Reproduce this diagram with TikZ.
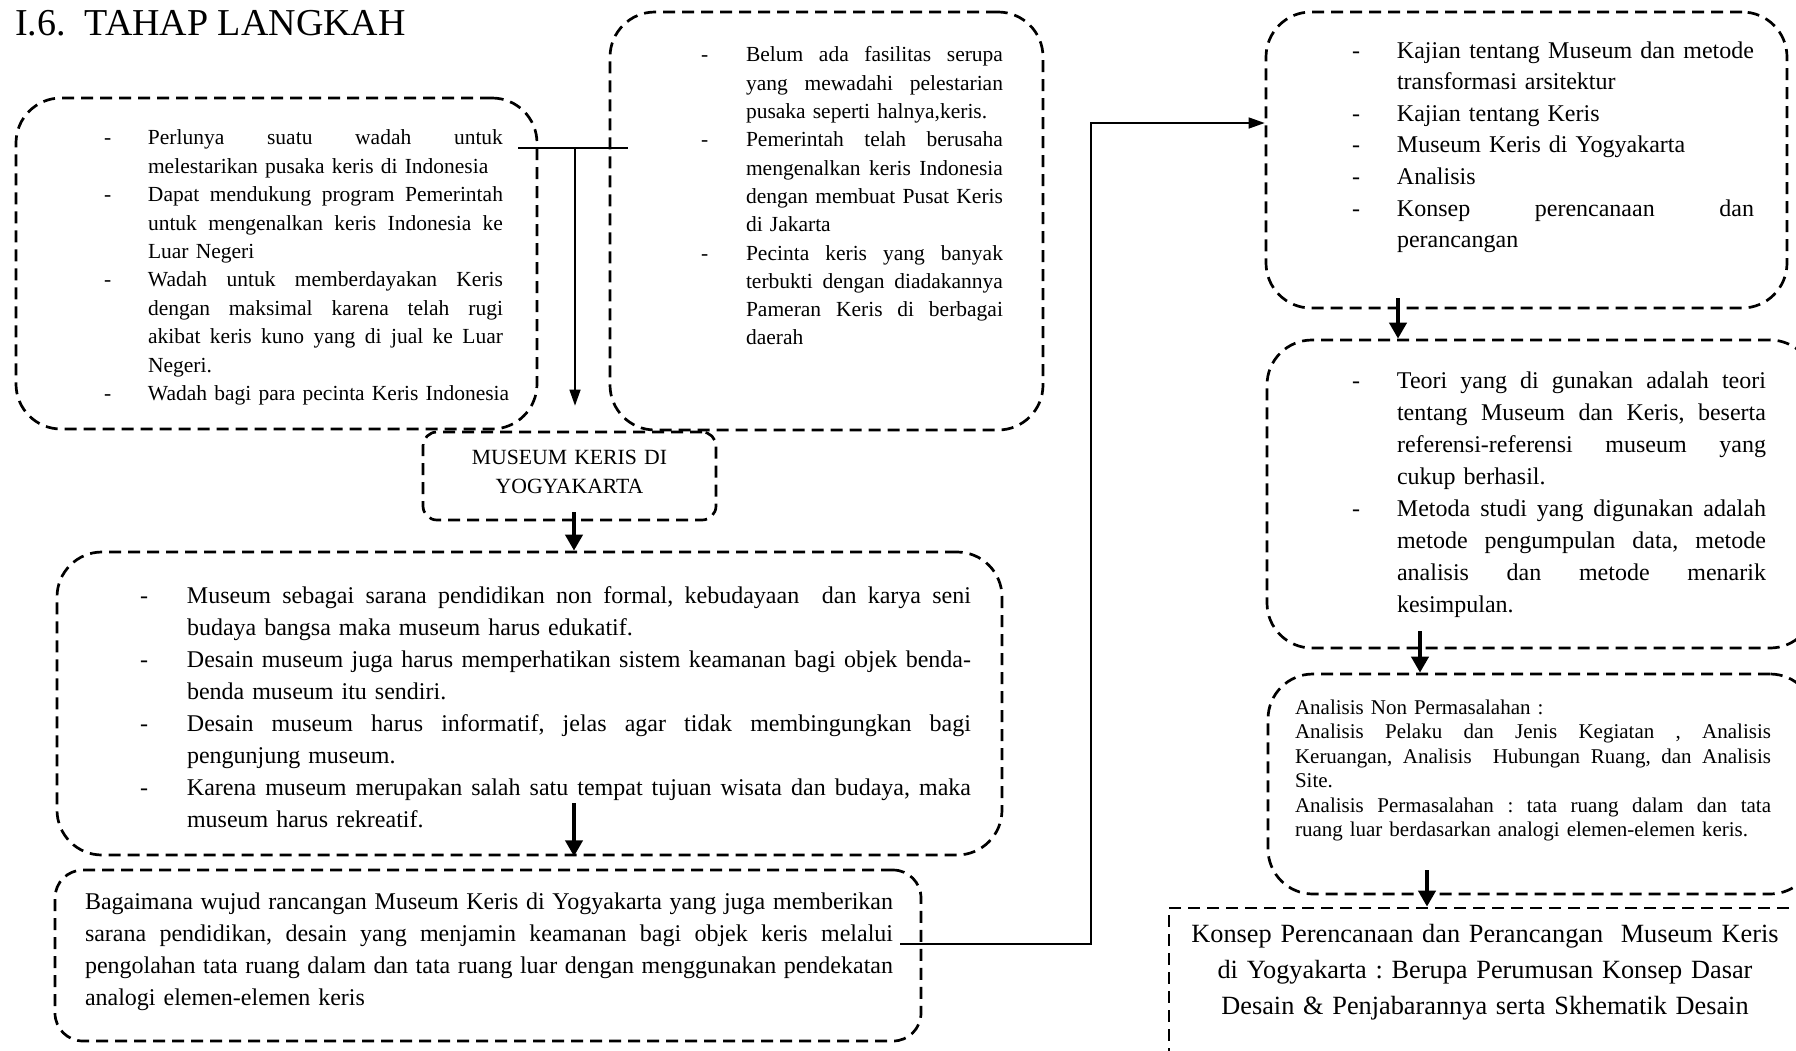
\documentclass[tikz,border=0pt]{standalone}
\usepackage{fontspec}
\setmainfont{Liberation Serif}
\usetikzlibrary{arrows.meta}
\frenchspacing
\newlength\kind
\newlength\ktw
\newcommand\kjbox[1]{\hbox to \ktw{\spaceskip=\fontdimen2\font plus 1fil\relax\xspaceskip=\spaceskip\rule{0pt}{0.9em}#1}}
\newcommand\kdashj[1]{\noindent\hbox to \kind{\rule{0pt}{0.9em}-\hss}\kjbox{#1}\par}
\newcommand\kdashp[1]{\noindent\hbox to \kind{\rule{0pt}{0.9em}-\hss}\mbox{#1}\par}
\newcommand\kjust[1]{\noindent\hspace*{\kind}\kjbox{#1}\par}
\newcommand\kplain[1]{\noindent\hspace*{\kind}\rule{0pt}{0.9em}\mbox{#1}\par}
\tikzset{
  rbox/.style={draw, line width=2.7pt, dash pattern=on 12pt off 7pt, rounded corners=45pt},
  sbox/.style={draw, line width=2.7pt, dash pattern=on 12pt off 7pt},
  txt/.style={inner sep=0pt, outer sep=0pt, anchor=north west},
  thinline/.style={line width=1.5pt},
  thinarrow/.style={line width=1.5pt, -{Triangle[length=16pt,width=11pt]}},
  thickarrow/.style={line width=4pt, -{Triangle[length=16pt,width=17pt]}}
}
\begin{document}
\begin{tikzpicture}[x=1pt,y=-1pt]
\clip (0,0) rectangle (1796,1050);
\fill[white] (0,0) rectangle (1796,1050);

% title
\node[inner sep=0pt, anchor=base west, font=\fontsize{38}{44}\selectfont] (title) at (15,35) {I.6.\ \ TAHAP LANGKAH};

% boxes
\node[rbox, minimum width=521pt, minimum height=331pt] (A) at (276.5,263.5) {};
\node[rbox, minimum width=433pt, minimum height=418pt] (B) at (826.5,221) {};
\node[rbox, rounded corners=14pt, minimum width=293pt, minimum height=88pt] (M) at (569.5,476) {};
\node[rbox, minimum width=945pt, minimum height=303pt] (C) at (529.5,703.5) {};
\node[rbox, rounded corners=28pt, minimum width=866pt, minimum height=171pt] (D) at (488,955.5) {};
\node[rbox, minimum width=521pt, minimum height=296pt] (E) at (1526.5,160) {};
\node[rbox, minimum width=548pt, minimum height=308pt] (F) at (1541,494) {};
\node[rbox, minimum width=547pt, minimum height=220pt] (G) at (1541.5,784) {};
\node[sbox, minimum width=661pt, minimum height=172pt] (H) at (1499.5,994) {};

% texts
\node[txt, text width=399pt, font=\fontsize{21.5}{28.4}\selectfont] (tA) at (104,125.6) {%
\setlength\kind{44pt}\setlength\ktw{355pt}%
\kdashj{Perlunya suatu wadah untuk}
\kplain{melestarikan pusaka keris di Indonesia}
\kdashj{Dapat mendukung program Pemerintah}
\kjust{untuk mengenalkan keris Indonesia ke}
\kplain{Luar Negeri}
\kdashj{Wadah untuk memberdayakan Keris}
\kjust{dengan maksimal karena telah rugi}
\kjust{akibat keris kuno yang di jual ke Luar}
\kplain{Negeri.}
\kdashp{Wadah bagi para pecinta Keris Indonesia}};

\node[txt, text width=302pt, font=\fontsize{21.5}{28.3}\selectfont] (tB) at (701,42.6) {%
\setlength\kind{45pt}\setlength\ktw{257pt}%
\kdashj{Belum ada fasilitas serupa}
\kjust{yang mewadahi pelestarian}
\kplain{pusaka seperti halnya,keris.}
\kdashj{Pemerintah telah berusaha}
\kjust{mengenalkan keris Indonesia}
\kjust{dengan membuat Pusat Keris}
\kplain{di Jakarta}
\kdashj{Pecinta keris yang banyak}
\kjust{terbukti dengan diadakannya}
\kjust{Pameran Keris di berbagai}
\kplain{daerah}};

\node[inner sep=0pt, anchor=north, text width=260pt, align=center, font=\fontsize{21.7}{29}\selectfont] (tM) at (569.5,444.5)
{\rule{0pt}{0.9em}MUSEUM KERIS DI\\ YOGYAKARTA};

\node[txt, text width=831pt, font=\fontsize{24}{32}\selectfont] (tC) at (140,581.4) {%
\setlength\kind{47pt}\setlength\ktw{784pt}%
\kdashj{Museum sebagai sarana pendidikan non formal, kebudayaan\ \ dan karya seni}
\kplain{budaya bangsa maka museum harus edukatif.}
\kdashj{Desain museum juga harus memperhatikan sistem keamanan bagi objek benda-}
\kplain{benda museum itu sendiri.}
\kdashj{Desain museum harus informatif, jelas agar tidak membingungkan bagi}
\kplain{pengunjung museum.}
\kdashj{Karena museum merupakan salah satu tempat tujuan wisata dan budaya, maka}
\kplain{museum harus rekreatif.}};

\node[txt, text width=808pt, font=\fontsize{24}{32}\selectfont] (tD) at (85,887.4) {%
\setlength\kind{0pt}\setlength\ktw{808pt}%
\kjust{Bagaimana wujud rancangan Museum Keris di Yogyakarta yang juga memberikan}
\kjust{sarana pendidikan, desain yang menjamin keamanan bagi objek keris melalui}
\kjust{pengolahan tata ruang dalam dan tata ruang luar dengan menggunakan pendekatan}
\kplain{analogi elemen-elemen keris}};

\node[txt, text width=402pt, font=\fontsize{24}{31.6}\selectfont] (tE) at (1352,36.4) {%
\setlength\kind{45pt}\setlength\ktw{357pt}%
\kdashj{Kajian tentang Museum dan metode}
\kplain{transformasi arsitektur}
\kdashp{Kajian tentang Keris}
\kdashp{Museum Keris di Yogyakarta}
\kdashp{Analisis}
\kdashj{Konsep perencanaan dan}
\kplain{perancangan}};

\node[txt, text width=414pt, font=\fontsize{24}{32}\selectfont] (tF) at (1352,366.4) {%
\setlength\kind{45pt}\setlength\ktw{369pt}%
\kdashj{Teori yang di gunakan adalah teori}
\kjust{tentang Museum dan Keris, beserta}
\kjust{referensi-referensi museum yang}
\kplain{cukup berhasil.}
\kdashj{Metoda studi yang digunakan adalah}
\kjust{metode pengumpulan data, metode}
\kjust{analisis dan metode menarik}
\kplain{kesimpulan.}};

\node[txt, text width=476pt, font=\fontsize{21}{24.5}\selectfont] (tG) at (1295,695.1) {%
\setlength\kind{0pt}\setlength\ktw{476pt}%
\kplain{Analisis Non Permasalahan :}
\kjust{Analisis Pelaku dan Jenis Kegiatan , Analisis}
\kjust{Keruangan, Analisis\ \ Hubungan Ruang, dan Analisis}
\kplain{Site.}
\kjust{Analisis Permasalahan : tata ruang dalam dan tata}
\kplain{ruang luar berdasarkan analogi elemen-elemen keris.}};

\node[inner sep=0pt, anchor=north, text width=640pt, align=center, font=\fontsize{26.3}{36}\selectfont] (tH) at (1485,919)
{\rule{0pt}{0.9em}Konsep Perencanaan dan Perancangan\ \ Museum Keris\\
di Yogyakarta : Berupa Perumusan Konsep Dasar\\
Desain \& Penjabarannya serta Skhematik Desain};

% connectors
\coordinate (hl) at (518,148);
\coordinate (hr) at (628,148);
\coordinate (hm) at (575,148);
\draw[thinline] (hl) -- (hr);
\draw[thinarrow, shorten >=25pt] (hm) -- (hm |- M.north);

\coordinate (m1) at (574,512);
\draw[thickarrow] (m1) -- (m1 |- C.north);
\coordinate (c1) at (574,803);
\draw[thickarrow] (c1) -- (c1 |- C.south);

\coordinate (d1) at (900,944);
\coordinate (d2) at (1091,123);
\draw[thinarrow] (d1) -| (d2) -- (d2 -| E.west);

\coordinate (e1) at (1398,298);
\draw[thickarrow] (e1) -- (e1 |- F.north);
\coordinate (f1) at (1420,631);
\draw[thickarrow] (f1) -- (f1 |- G.north);
\coordinate (g1) at (1427,870);
\draw[thickarrow] (g1) -- (g1 |- H.north);
\end{tikzpicture}
\end{document}
